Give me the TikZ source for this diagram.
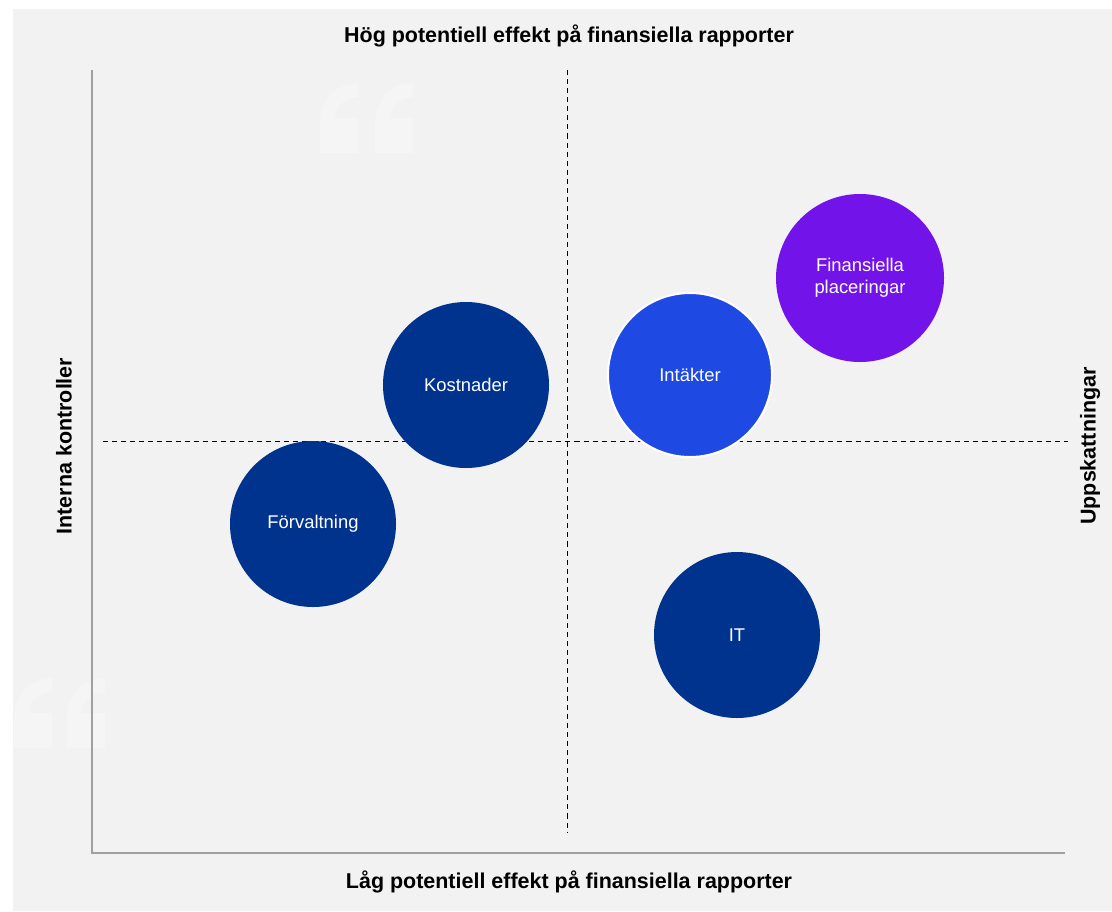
\documentclass[tikz,border=0pt]{standalone}
\usepackage{fontspec}
\setmainfont{Liberation Sans}
\definecolor{bgc}{HTML}{F2F2F2}
\definecolor{quotec}{HTML}{F5F5F5}
\definecolor{axisc}{HTML}{A0A0A0}
\definecolor{navyc}{HTML}{00338D}
\definecolor{cobaltc}{HTML}{1E49E2}
\definecolor{purplec}{HTML}{7213EA}

\begin{document}
\begin{tikzpicture}[x=0.75pt,y=-0.75pt,
  bubble/.style={circle,inner sep=0pt,minimum size=#1*1.5pt,text=white,
    font=\fontsize{13.8}{16.5}\selectfont,align=center},
  axislabel/.style={font=\fontsize{16.1}{19}\selectfont\bfseries,text=black},
  quad/.style={black,line width=0.75pt,dash pattern=on 3.8pt off 3pt},
  quoteglyph/.pic={\fill[quotec] (38,0) .. controls (12,2) and (0,18) .. (0,42)
    -- (0,70) -- (38,70) -- (38,35) -- (15,35) .. controls (15,24) and (24,15) .. (38,14) -- cycle;}]
\useasboundingbox (0,0) rectangle (1112,911);
\fill[white] (0,0) rectangle (1112,911);
\fill[bgc] (13,9) rectangle (1112,911);
% faint quote marks
\pic at (320,83) {quoteglyph};
\pic at (375,83) {quoteglyph};
\pic at (14,678) {quoteglyph};
\pic at (67,678) {quoteglyph};
% axes
\coordinate (ytop) at (92,70);
\coordinate (origin) at (92,853);
\coordinate (xend) at (1065,853);
\draw[axisc,line width=1.5pt] (ytop) -- (origin) -- (xend);
% quadrant lines
\coordinate (vtop) at (567,70);
\coordinate (vbot) at (567,833);
\coordinate (hleft) at (103,441);
\coordinate (hright) at (1068,441);
\draw[quad] (vtop) -- (vbot);
\draw[quad] (hleft) -- (hright);
% labels
\node[axislabel] (high) at (569,36) {Hög potentiell effekt på finansiella rapporter};
\node[axislabel] (low) at (569,882) {Låg potentiell effekt på finansiella rapporter};
\node[axislabel,rotate=90] (intern) at (64,446) {Interna kontroller};
\node[axislabel,rotate=90] (estim) at (1090,446) {Uppskattningar};
% bubbles
\node[bubble=83,fill=navyc] (kost) at (466,385) {Kostnader};
\node[bubble=83,fill=navyc] (forv) at (313,524) {Förvaltning};
\node[bubble=82,fill=cobaltc,draw=white,line width=1.5pt] (intak) at (690,375) {Intäkter};
\node[bubble=84,fill=purplec] (finpl) at (860,278) {Finansiella\\placeringar};
\node[bubble=83,fill=navyc] (it) at (737,635) {IT};
\end{tikzpicture}
\end{document}
